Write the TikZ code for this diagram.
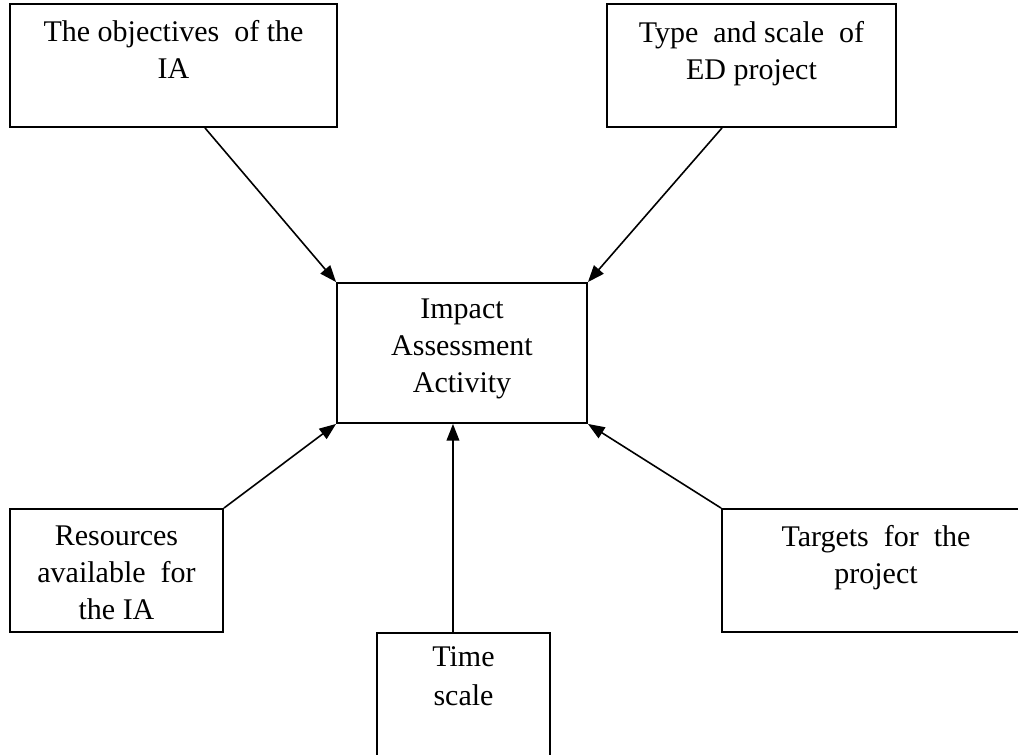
\documentclass[tikz,border=0pt]{standalone}
\usepackage{fontspec}
\setmainfont{Liberation Serif}
\usetikzlibrary{arrows.meta,positioning}

\begin{document}
\begin{tikzpicture}[x=0.75pt,y=-0.75pt,
  box/.style={draw,line width=1.4pt,inner sep=0pt},
  boxtext/.style={inner sep=0pt,align=center,font=\fontsize{22.5pt}{27.75pt}\selectfont},
  arr/.style={line width=1.2pt,-{Triangle[length=12.5pt,width=9.5pt]}}]
  \useasboundingbox (0,0) rectangle (1018,755);

  % Central activity
  \node[box,minimum width=187.5pt,minimum height=105pt] (iaa) at (462,353) {};
  \node[boxtext,below=12.5pt of iaa.north] (iaatext) {Impact\\Assessment\\Activity};

  % Upper inputs
  \node[box,minimum width=245.25pt,minimum height=92.25pt] (obj) at (173.5,65.5) {};
  \node[boxtext,below=13pt of obj.north] (objtext) {The objectives\ \ of the\\IA};
  \node[box,minimum width=216.75pt,minimum height=92.25pt] (type) at (751.5,65.5) {};
  \node[boxtext,below=13.5pt of type.north] (typetext) {Type\ \ and scale\ \ of\\ED project};

  % Lower inputs
  \node[box,minimum width=159.75pt,minimum height=92.25pt] (res) at (116.5,570.5) {};
  \node[boxtext,below=13pt of res.north] (restext) {Resources\\available\ \ for\\the\ IA};
  \node[box,minimum width=231pt,minimum height=92.25pt] (tgt) at (876,570.5) {};
  \node[boxtext,below=13pt of tgt.north] (tgttext) {Targets\ \ for\ \ the\\project};
  \node[box,minimum width=129.75pt,minimum height=102pt] (time) at (463.5,701) {};
  \node[boxtext,below=11pt of time.north] (timetext) {Time\\[1.5pt]scale};

  % Arrows into the activity
  \draw[arr] ([xshift=23.6pt]obj.south) -- (iaa.north west);
  \draw[arr] ([xshift=-22.1pt]type.south) -- (iaa.north east);
  \draw[arr] (res.north east) -- (iaa.south west);
  \draw[arr] (tgt.north west) -- (iaa.south east);
  \draw[arr] ([xshift=-7.9pt]time.north) -- ([xshift=-7.9pt]time.north |- iaa.south);
\end{tikzpicture}
\end{document}
